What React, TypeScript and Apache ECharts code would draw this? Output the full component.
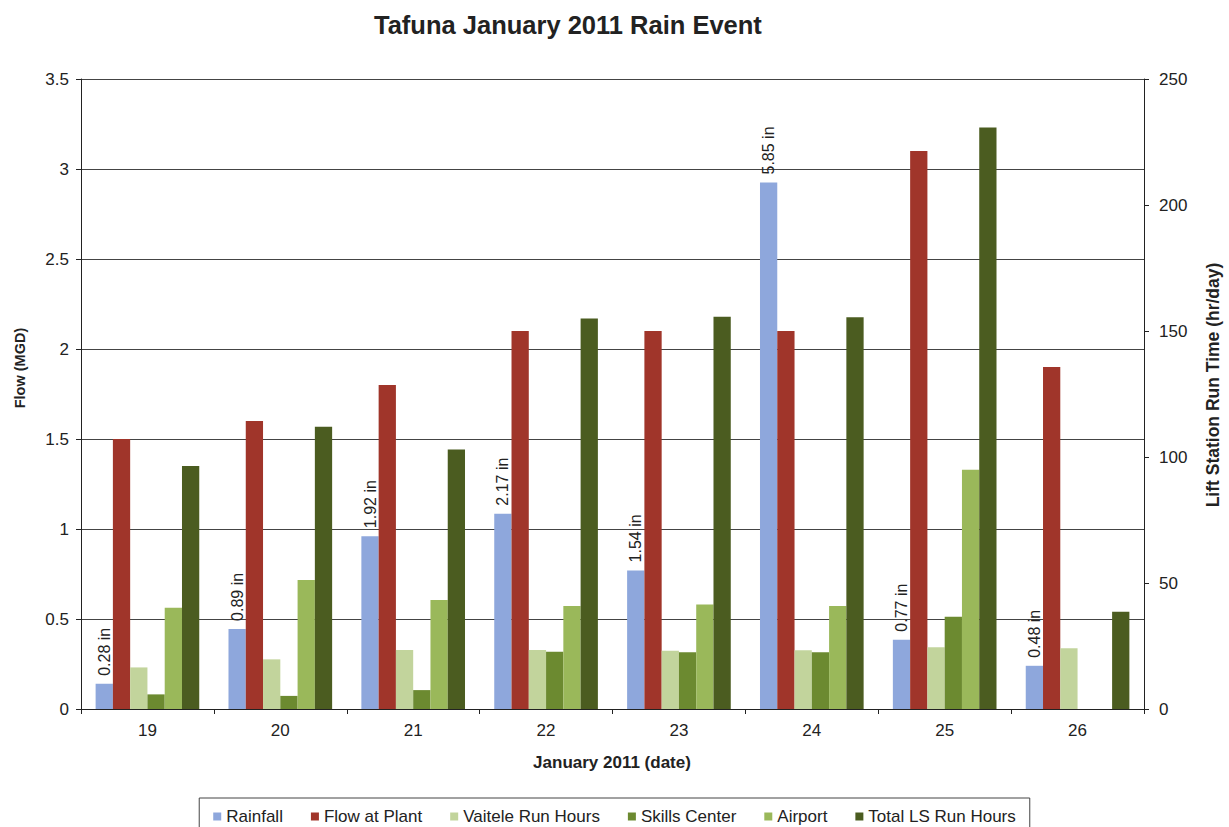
import React, { useEffect, useRef } from "react";
import * as echarts from "echarts";

const categories = ["19", "20", "21", "22", "23", "24", "25", "26"];
const rainfallIn = [0.28, 0.89, 1.92, 2.17, 1.54, 5.85, 0.77, 0.48];
const flowAtPlant = [1.5, 1.6, 1.8, 2.1, 2.1, 2.1, 3.1, 1.9];
const vaiteleHours = [16.5, 19.7, 23.4, 23.4, 23.1, 23.3, 24.5, 24.1];
const skillsCenter = [5.8, 5.2, 7.5, 22.7, 22.5, 22.5, 36.6, 0];
const airport = [40.2, 51.2, 43.3, 40.9, 41.5, 40.9, 94.9, 0];
const totalLsHours = [96.4, 112, 103, 155, 155.7, 155.5, 230.8, 38.6];

const FONT = "Liberation Sans, Arial, sans-serif";

export default function App() {
  const ref = useRef<HTMLDivElement>(null);
  useEffect(() => {
    if (!ref.current) return;
    const chart = echarts.init(ref.current, null, { renderer: "svg" });
    const barBase = { type: "bar" as const, barGap: "0%", barCategoryGap: "22%" };
    chart.setOption({
      animation: false,
      backgroundColor: "#ffffff",
      textStyle: { fontFamily: FONT, color: "#222" },
      title: {
        text: "Tafuna January 2011 Rain Event",
        left: 369,
        top: 7,
        textStyle: { fontFamily: FONT, fontSize: 25.5, fontWeight: "bold", color: "#222" },
      },
      grid: { left: 81, right: 85, top: 79, bottom: 118, containLabel: false },
      legend: {
        bottom: -12,
        left: "center",
        icon: "rect",
        itemWidth: 8,
        itemHeight: 8,
        itemGap: 28,
        borderColor: "#444",
        borderWidth: 1,
        padding: [10, 14, 14, 14],
        textStyle: { fontFamily: FONT, fontSize: 17, color: "#222" },
        data: ["Rainfall", "Flow at Plant", "Vaitele Run Hours", "Skills Center", "Airport", "Total LS Run Hours"],
      },
      xAxis: {
        type: "category",
        data: categories,
        axisLine: { lineStyle: { color: "#222", width: 1 } },
        axisTick: { show: true, length: 5, lineStyle: { color: "#222" } },
        axisLabel: { fontFamily: FONT, fontSize: 17, color: "#222", margin: 13 },
      },
      yAxis: [
        {
          type: "value",
          min: 0,
          max: 3.5,
          interval: 0.5,
          axisLine: { show: true, lineStyle: { color: "#222", width: 1 } },
          axisTick: { show: true, length: 5, lineStyle: { color: "#222" } },
          axisLabel: { fontFamily: FONT, fontSize: 17, color: "#222", margin: 12 },
          splitLine: { show: true, lineStyle: { color: "#444", width: 1 } },
        },
        {
          type: "value",
          min: 0,
          max: 250,
          interval: 50,
          position: "right",
          axisLine: { show: true, lineStyle: { color: "#222", width: 1 } },
          axisTick: { show: true, length: 5, lineStyle: { color: "#222" } },
          axisLabel: { fontFamily: FONT, fontSize: 17, color: "#222", margin: 15 },
          splitLine: { show: false },
        },
        { type: "value", min: 0, max: 7, show: false, splitLine: { show: false } },
      ],
      graphic: [
        {
          type: "text",
          x: 20,
          y: 368,
          rotation: Math.PI / 2,
          style: {
            text: "Flow (MGD)",
            fontFamily: FONT,
            fontSize: 14.5,
            fontWeight: "bold",
            fill: "#222",
            align: "center",
            verticalAlign: "middle",
          },
        },
        {
          type: "text",
          x: 1213,
          y: 385,
          rotation: Math.PI / 2,
          style: {
            text: "Lift Station Run Time (hr/day)",
            fontFamily: FONT,
            fontSize: 17.5,
            fontWeight: "bold",
            fill: "#222",
            align: "center",
            verticalAlign: "middle",
          },
        },
        {
          type: "text",
          x: 612,
          y: 762,
          style: {
            text: "January 2011 (date)",
            fontFamily: FONT,
            fontSize: 17,
            fontWeight: "bold",
            fill: "#222",
            align: "center",
            verticalAlign: "middle",
          },
        },
      ],
      series: [
        {
          ...barBase,
          name: "Rainfall",
          yAxisIndex: 2,
          data: rainfallIn,
          itemStyle: { color: "#8EA7DC" },
          label: {
            show: true,
            position: "top",
            rotate: 90,
            align: "left",
            verticalAlign: "middle",
            distance: 8,
            fontFamily: FONT,
            fontSize: 16,
            color: "#222",
            formatter: (p: any) => `${rainfallIn[p.dataIndex]} in`,
          },
        },
        { ...barBase, name: "Flow at Plant", yAxisIndex: 0, data: flowAtPlant, itemStyle: { color: "#A0352A" } },
        { ...barBase, name: "Vaitele Run Hours", yAxisIndex: 1, data: vaiteleHours, itemStyle: { color: "#C2D49C" } },
        { ...barBase, name: "Skills Center", yAxisIndex: 1, data: skillsCenter, itemStyle: { color: "#6C8A30" } },
        { ...barBase, name: "Airport", yAxisIndex: 1, data: airport, itemStyle: { color: "#9AB85A" } },
        { ...barBase, name: "Total LS Run Hours", yAxisIndex: 1, data: totalLsHours, itemStyle: { color: "#4B5C20" } },
      ],
    });
    return () => chart.dispose();
  }, []);
  return <div ref={ref} style={{ width: 1229, height: 827, position: "absolute", left: 0, top: 0 }} />;
}
